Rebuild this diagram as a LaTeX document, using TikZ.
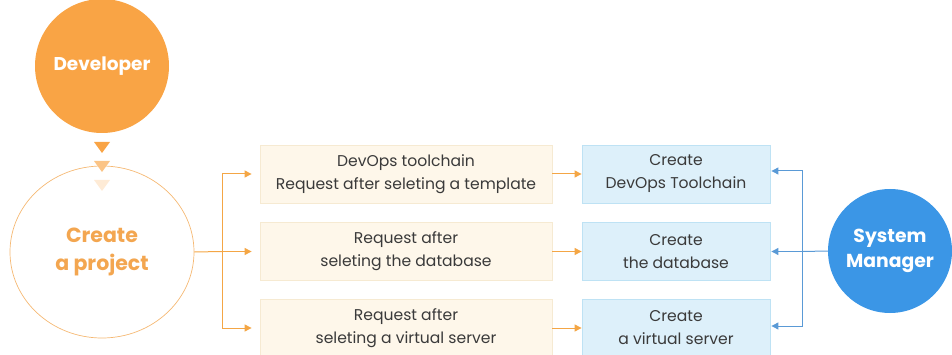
\documentclass[tikz,border=0pt]{standalone}
\usepackage{fontspec}
\setmainfont{Poppins}
\usetikzlibrary{arrows.meta,shapes.geometric}
\definecolor{devorange}{HTML}{F9A445}
\definecolor{lineorange}{HTML}{F4A645}
\definecolor{textorange}{HTML}{F3A650}
\definecolor{reqfill}{HTML}{FEF7EA}
\definecolor{reqdraw}{HTML}{F6EAD2}
\definecolor{crfill}{HTML}{DDF0FA}
\definecolor{crdraw}{HTML}{BEE2F4}
\definecolor{mgrblue}{HTML}{3B96E6}
\definecolor{lineblue}{HTML}{5A9AD6}
\definecolor{boxtext}{HTML}{3A3A3A}
\tikzset{
  tip/.style={-{Triangle[length=7pt,width=7pt]}},
  reqbox/.style={draw=reqdraw, fill=reqfill, line width=0.8pt, minimum width=292pt,
    minimum height=58pt, align=center, text=boxtext, font=\fontsize{15.6}{23}\selectfont},
  crbox/.style={draw=crdraw, fill=crfill, line width=0.8pt, minimum width=188pt,
    minimum height=58pt, align=center, text=boxtext, font=\fontsize{15.6}{23}\selectfont},
  orangeline/.style={draw=lineorange, line width=1pt},
  blueline/.style={draw=lineblue, line width=1pt},
}
\begin{document}
\begin{tikzpicture}[x=1pt,y=-1pt]
  \useasboundingbox (0,0) rectangle (952,355);
  % actors
  \node[circle, fill=devorange, minimum size=134pt, inner sep=0pt, text=white,
        font=\bfseries\fontsize{18.5}{22}\selectfont] (dev) at (102,66) {Developer};
  \node[ellipse, draw=textorange!80, line width=0.7pt, minimum width=184pt, minimum height=172pt,
        inner sep=0pt, text=textorange, align=center,
        font=\bfseries\fontsize{20.5}{28}\selectfont] (proj) at (102,252) {Create\\a project};
  \node[circle, fill=mgrblue, minimum size=124pt, inner sep=0pt, text=white, align=center,
        font=\bfseries\fontsize{18.8}{25}\selectfont] (mgr) at (890,251) {System\\Manager};
  % fading chevron between developer and project
  \coordinate (chev) at (102,142);
  \fill[devorange] (chev) ++(-8,0) -- ++(16,0) -- ++(-8,11) -- cycle;
  \fill[devorange!65] (chev) ++(-8,19) -- ++(16,0) -- ++(-8,11) -- cycle;
  \fill[devorange!22] (chev) ++(-8,38) -- ++(16,0) -- ++(-8,11) -- cycle;
  % request boxes
  \node[reqbox] (l1) at (406,174) {DevOps toolchain\\Request after seleting a template};
  \node[reqbox] (l2) at (406,251.5) {Request after\\seleting the database};
  \node[reqbox] (l3) at (406,328) {Request after\\seleting a virtual server};
  % creation boxes
  \node[crbox] (r1) at (676,174) {Create\\DevOps Toolchain};
  \node[crbox] (r2) at (676,251.5) {Create\\the database};
  \node[crbox] (r3) at (676,328) {Create\\a virtual server};
  % fan-out from the project
  \coordinate (split) at (222,251.5);
  \draw[orangeline] (proj.east) -- (split);
  \draw[orangeline, tip, shorten >=8pt] (split) |- (l1.west);
  \draw[orangeline, tip, shorten >=8pt] (split) -- (l2.west);
  \draw[orangeline, tip, shorten >=8pt] (split) |- (l3.west);
  \draw[orangeline, tip] (l1.east) -- (r1.west);
  \draw[orangeline, tip] (l2.east) -- (r2.west);
  \draw[orangeline, tip] (l3.east) -- (r3.west);
  % fan-in from the system manager
  \coordinate (join) at (802,251.5);
  \draw[blueline] (mgr.west) -- (join);
  \draw[blueline, tip, shorten >=1pt] (join) |- ([yshift=3pt]r1.east);
  \draw[blueline, tip, shorten >=1pt] (join) -- (r2.east);
  \draw[blueline, tip, shorten >=1pt] (join) |- ([yshift=2pt]r3.east);
\end{tikzpicture}
\end{document}
